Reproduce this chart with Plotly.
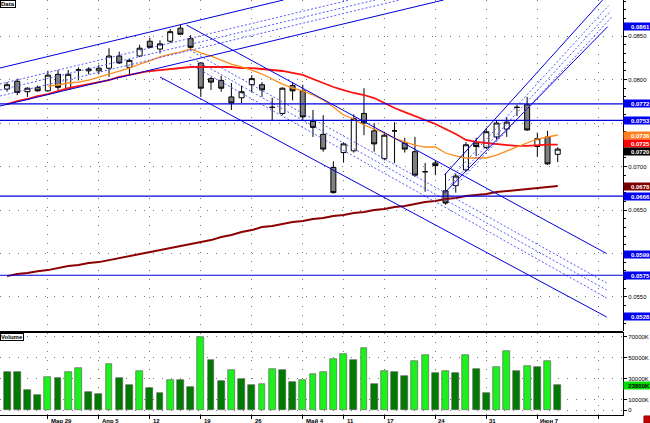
import plotly.graph_objects as go

# ---------------- data ----------------
day_index = list(range(55))
week_ticks = [4, 9, 14, 19, 24, 29, 33, 37, 42, 47, 52, 58]
week_labels = ["Мар 29", "Апр 5", "12", "19", "26", "Май 4", "11", "17", "24", "31", "Июн 7", ""]

opens = [0.0789, 0.0798, 0.0786, 0.0791, 0.0787, 0.0806, 0.0789, 0.0811, 0.0810, 0.0810,
         0.0813, 0.0827, 0.0814, 0.0827, 0.0844, 0.0835, 0.0844, 0.0859, 0.0847, 0.0819,
         0.0801, 0.0799, 0.0780, 0.0779, 0.0794, 0.0794, 0.0768, 0.0761, 0.0793, 0.0787,
         0.0752, 0.0737, 0.0699, 0.0716, 0.0718, 0.0761, 0.0741, 0.0709, 0.0741, 0.0727,
         0.0717, 0.0694, 0.0704, 0.0672, 0.0678, 0.0696, 0.0727, 0.0722, 0.0734, 0.0743,
         0.0768, 0.0771, 0.0723, 0.0734, 0.0714]
highs = [0.0797, 0.0801, 0.0791, 0.0793, 0.0810, 0.0811, 0.0811, 0.0814, 0.0814, 0.0817,
         0.0836, 0.0832, 0.0824, 0.0840, 0.0848, 0.0845, 0.0858, 0.0863, 0.0851, 0.0820,
         0.0803, 0.0804, 0.0796, 0.0793, 0.0805, 0.0797, 0.0779, 0.0791, 0.0797, 0.0794,
         0.0765, 0.0759, 0.0706, 0.0728, 0.0760, 0.0790, 0.0750, 0.0740, 0.0751, 0.0733,
         0.0734, 0.0704, 0.0707, 0.0692, 0.0692, 0.0728, 0.0733, 0.0744, 0.0753, 0.0757,
         0.0771, 0.0780, 0.0739, 0.0741, 0.0722]
lows = [0.0786, 0.0782, 0.0780, 0.0786, 0.0786, 0.0788, 0.0788, 0.0799, 0.0806, 0.0806,
        0.0803, 0.0818, 0.0805, 0.0826, 0.0836, 0.0830, 0.0842, 0.0852, 0.0834, 0.0780,
        0.0788, 0.0786, 0.0765, 0.0773, 0.0785, 0.0780, 0.0753, 0.0759, 0.0776, 0.0753,
        0.0734, 0.0717, 0.0669, 0.0705, 0.0716, 0.0736, 0.0717, 0.0707, 0.0704, 0.0716,
        0.0688, 0.0671, 0.0690, 0.0656, 0.0670, 0.0694, 0.0712, 0.0720, 0.0731, 0.0734,
        0.0758, 0.0741, 0.0711, 0.0702, 0.0705]
closes = [0.0794, 0.0785, 0.0790, 0.0787, 0.0805, 0.0791, 0.0806, 0.0811, 0.0812, 0.0813,
          0.0827, 0.0819, 0.0822, 0.0836, 0.0837, 0.0841, 0.0855, 0.0852, 0.0837, 0.0790,
          0.0797, 0.0790, 0.0773, 0.0786, 0.0801, 0.0788, 0.0768, 0.0790, 0.0787, 0.0757,
          0.0745, 0.0720, 0.0670, 0.0726, 0.0755, 0.0750, 0.0726, 0.0736, 0.0741, 0.0720,
          0.0690, 0.0694, 0.0701, 0.0658, 0.0689, 0.0725, 0.0723, 0.0740, 0.0750, 0.0751,
          0.0768, 0.0742, 0.0732, 0.0703, 0.0720]

ma_short = [None, None, None, None,
            0.07925, 0.07937, 0.07960, 0.07971, 0.07994, 0.08029, 0.08063, 0.08098, 0.08132, 0.08178,
            0.08213, 0.08259, 0.08293, 0.08316, 0.08351, 0.08305, 0.08270, 0.08224, 0.08178, 0.08144,
            0.08109, 0.08063, 0.08006, 0.07948, 0.07902, 0.07868, 0.07822, 0.07764, 0.07684, 0.07592,
            0.07546, 0.07477, 0.07431, 0.07385, 0.07327, 0.07282, 0.07247, 0.07224, 0.07224, 0.07155,
            0.07121, 0.07098, 0.07098, 0.07098, 0.07132, 0.07178, 0.07224, 0.07270, 0.07316, 0.07339,
            0.07362]
ma_mid = [0.07718, 0.07753, 0.07776, 0.07810, 0.07833, 0.07868, 0.07902, 0.07925, 0.07948, 0.07971,
          0.07994, 0.08029, 0.08052, 0.08075, 0.08098, 0.08109, 0.08121, 0.08132, 0.08144, 0.08144,
          0.08144, 0.08144, 0.08144, 0.08132, 0.08132, 0.08121, 0.08109, 0.08098, 0.08075, 0.08052,
          0.08006, 0.07960, 0.07914, 0.07879, 0.07845, 0.07822, 0.07787, 0.07730, 0.07672, 0.07626,
          0.07580, 0.07534, 0.07489, 0.07431, 0.07374, 0.07305, 0.07282, 0.07270, 0.07259, 0.07247,
          0.07236, 0.07236, 0.07247, 0.07252, 0.07252]
ma_long = [0.05740, 0.05763, 0.05775, 0.05797, 0.05809, 0.05832, 0.05855, 0.05867, 0.05890, 0.05901,
           0.05924, 0.05947, 0.05970, 0.05993, 0.06016, 0.06039, 0.06062, 0.06085, 0.06108, 0.06131,
           0.06154, 0.06189, 0.06212, 0.06246, 0.06269, 0.06304, 0.06315, 0.06338, 0.06361, 0.06373,
           0.06396, 0.06407, 0.06430, 0.06442, 0.06465, 0.06476, 0.06499, 0.06511, 0.06534, 0.06545,
           0.06568, 0.06591, 0.06603, 0.06626, 0.06637, 0.06660, 0.06672, 0.06683, 0.06706, 0.06718,
           0.06729, 0.06741, 0.06752, 0.06764, 0.06775]

volume_k = [36500, 36000, 19000, 14000, 31700, 30500, 36200, 39700, 17100, 15200,
            43800, 30800, 23800, 37400, 20600, 16200, 28900, 28600, 21600, 69200,
            47600, 27600, 38100, 29500, 23800, 24800, 38700, 38500, 26700, 28600,
            34300, 36200, 48600, 53300, 47600, 59300, 24800, 37100, 35900, 32400,
            46700, 52400, 35000, 37400, 35200, 52400, 38800, 15900, 40700, 56500,
            37100, 41600, 40700, 46700, 23800]

# trend-line anchors: (day index, price) pairs
rise_channel_solid = [[(-0.7, 0.08132), (27.1, 0.08914)], [(-0.7, 0.07695), (42.8, 0.08914)]]
rise_channel_dotted = [[(-0.7, 0.07948), (33.6, 0.08914)], [(-0.7, 0.07879), (36.1, 0.08914)],
                       [(-0.7, 0.07810), (38.5, 0.08914)]]
fall_channel_solid = [[(17.6, 0.08626), (58.8, 0.05999)], [(15.0, 0.08029), (58.8, 0.05270)]]
fall_channel_dotted = [[(17.9, 0.08339), (58.8, 0.05661)], [(17.9, 0.08259), (58.8, 0.05580)],
                       [(17.9, 0.08178), (58.8, 0.05489)]]
late_channel_solid = [[(42.9, 0.06903), (58.4, 0.08914)], [(42.9, 0.06695), (58.9, 0.08608)]]
late_channel_dotted = [[(43.3, 0.06840), (59.0, 0.08850)], [(43.5, 0.06790), (59.2, 0.08790)],
                       [(43.7, 0.06740), (59.4, 0.08730)]]
level_lines = [0.0772, 0.0753, 0.0666, 0.0575]

price_ticks = [0.055, 0.060, 0.065, 0.070, 0.075, 0.080, 0.085]
price_tick_text = ["0.0550", "", "0.0650", "0.0700", "", "0.0800", "0.0850"]
vol_ticks = [0, 10000, 30000, 50000, 70000]
vol_tick_text = ["0", "10000K", "30000K", "50000K", "70000K"]

# ---------------- figure ----------------
BLUE = "#0000dd"
DOT_BLUE = "#5a5aff"
FONT = "Liberation Sans"

fig = go.Figure()

vol_colors = ["#007a00"] + ["#1ef01e" if volume_k[i] > volume_k[i - 1] else "#007a00"
                            for i in range(1, len(volume_k))]
fig.add_trace(go.Bar(x=day_index, y=volume_k, marker=dict(color=vol_colors, line=dict(color="#555", width=0.6)),
                     width=0.68, xaxis="x2", yaxis="y2", showlegend=False, hoverinfo="skip"))

fig.add_trace(go.Scatter(x=day_index, y=ma_long, mode="lines", line=dict(color="#8b0000", width=2),
                         showlegend=False))
fig.add_trace(go.Scatter(x=day_index, y=ma_mid, mode="lines", line=dict(color="#ff1010", width=1.8),
                         showlegend=False))
fig.add_trace(go.Scatter(x=day_index, y=ma_short, mode="lines", line=dict(color="#ff8c1a", width=1.3),
                         showlegend=False))

def add_lines(groups, color, dash, width):
    for seg in groups:
        fig.add_trace(go.Scatter(x=[seg[0][0], seg[1][0]], y=[seg[0][1], seg[1][1]], mode="lines",
                                 line=dict(color=color, width=width, dash=dash),
                                 showlegend=False, hoverinfo="skip"))

add_lines(rise_channel_solid, BLUE, "solid", 1)
add_lines(rise_channel_dotted, DOT_BLUE, "2px,2px", 1)
add_lines(fall_channel_solid, BLUE, "solid", 1)
add_lines(fall_channel_dotted, DOT_BLUE, "2px,2px", 1)
add_lines(late_channel_solid, BLUE, "solid", 1)
add_lines(late_channel_dotted, DOT_BLUE, "2px,2px", 1)

fig.add_trace(go.Candlestick(x=day_index, open=opens, high=highs, low=lows, close=closes,
                             increasing=dict(line=dict(color="black", width=1), fillcolor="white"),
                             decreasing=dict(line=dict(color="black", width=1), fillcolor="#808080"),
                             whiskerwidth=0, showlegend=False, xaxis="x", yaxis="y"))

shapes = []
for lv in level_lines:
    shapes.append(dict(type="line", xref="x domain", x0=0, x1=1, yref="y", y0=lv, y1=lv,
                       line=dict(color=BLUE, width=1.2), layer="above"))
shapes.append(dict(type="line", xref="paper", x0=0, x1=1, yref="paper", y0=0.2, y1=0.2,
                   line=dict(color="black", width=2)))
shapes.append(dict(type="rect", xref="paper", yref="paper", x0=1.0337, x1=1.0433, y0=-0.0193, y1=-0.0024,
                   fillcolor="#d00000", line=dict(color="#800000", width=1)))
fig.update_layout(shapes=shapes)

tags = [(0.0861, "#0000ee", 0), (0.0772, "#0000ee", 0), (0.0753, "#0000ee", 0),
        (ma_short[-1], "#ff8020", 0), (ma_mid[-1], "#ff0000", 1), (closes[-1], "#000000", -2),
        (ma_long[-1], "#7a0000", 0), (0.0666, "#0000ee", 0), (0.0599, "#0000ee", 0),
        (0.0575, "#0000ee", 0), (0.0528, "#0000ee", 0)]
ann = []
for val, col, shift in tags:
    ann.append(dict(xref="paper", x=1, xanchor="left", xshift=0, yref="y", y=val, yanchor="middle",
                    yshift=shift, text=f"<b>{val:.4f}</b>", showarrow=False, bgcolor=col, borderpad=0,
                    font=dict(family=FONT, size=6, color="white"), width=26, height=7, align="right"))
ann.append(dict(xref="paper", x=1, xanchor="left", xshift=0, yref="y2", y=volume_k[-1], yanchor="middle",
                text=f"<b>{volume_k[-1]}K</b>", showarrow=False, bgcolor="#00dd00", borderpad=0,
                font=dict(family=FONT, size=6, color="black"), width=26, height=7, align="right"))
for t, lab in zip(week_ticks, week_labels):
    if lab:
        ann.append(dict(xref="x2", x=t, xanchor="left", xshift=1, yref="paper", y=0, yanchor="top",
                        yshift=-1, text=f"<b>{lab}</b>", showarrow=False,
                        font=dict(family=FONT, size=6, color="black")))
ann.append(dict(xref="paper", x=0, xanchor="left", yref="paper", y=1, yanchor="top", text="<b>Data</b>",
                showarrow=False, bgcolor="white", bordercolor="black", borderwidth=1, borderpad=0,
                font=dict(family=FONT, size=6, color="black")))
ann.append(dict(xref="paper", x=0, xanchor="left", yref="paper", y=0.197, yanchor="top", text="<b>Volume</b>",
                showarrow=False, bgcolor="white", bordercolor="black", borderwidth=1, borderpad=0,
                font=dict(family=FONT, size=6, color="black")))
fig.update_layout(annotations=ann)

grid = dict(showgrid=True, gridcolor="#777", griddash="1px,8px", gridwidth=1, zeroline=False,
            automargin=False)
fig.update_layout(
    template="none",
    width=650, height=423, margin=dict(l=0, r=27, t=0, b=8, pad=0),
    paper_bgcolor="white", plot_bgcolor="white",
    font=dict(family=FONT, size=6, color="black"),
    xaxis=dict(domain=[0, 1], anchor="y", range=[-0.69, 60.4], tickvals=week_ticks, ticktext=[""] * 12,
               rangeslider=dict(visible=False), showline=False, ticks="", **grid),
    yaxis=dict(domain=[0.2024, 1], anchor="x", side="right", range=[0.05109, 0.08914],
               tickvals=price_ticks, ticktext=price_tick_text, showline=True, linecolor="black",
               ticks="outside", ticklen=3, tickcolor="black",
               minor=dict(dtick=0.001, ticks="outside", ticklen=2, tickcolor="black", showgrid=False),
               tickfont=dict(family=FONT, size=6), **grid),
    xaxis2=dict(domain=[0, 1], anchor="y2", range=[-0.69, 60.4], tickvals=week_ticks,
                ticktext=[""] * 12, showline=True, linecolor="black", mirror=True, ticks="outside",
                ticklen=3, tickcolor="black", **grid),
    yaxis2=dict(domain=[0, 0.1976], anchor="x2", side="right", range=[-4760, 73333],
                tickvals=vol_ticks, ticktext=vol_tick_text, showline=True, linecolor="black",
                ticks="outside", ticklen=3, tickcolor="black", tickfont=dict(family=FONT, size=6), **grid),
    bargap=0,
)

fig.write_html("out.html", config={"displayModeBar": False},
               post_script="document.body.style.margin='0';document.body.style.overflow='hidden';")
